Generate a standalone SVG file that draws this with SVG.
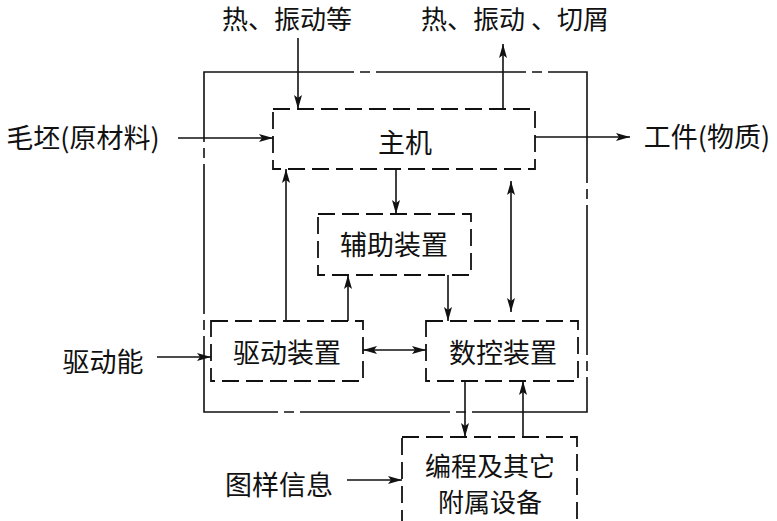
<svg xmlns="http://www.w3.org/2000/svg" width="777" height="521" viewBox="0 0 777 521">
<style>
text{font-family:"Noto Sans CJK SC","Noto Sans",sans-serif;font-size:27px;fill:#111;text-anchor:middle;dominant-baseline:central}
.sm{font-size:26px}
.box{fill:none;stroke:#111;stroke-width:1.8;stroke-dasharray:17 7}
.outer{fill:none;stroke:#111;stroke-width:1.6;stroke-dasharray:150 6 10 6}
.ln{fill:none;stroke:#111;stroke-width:1.6}
.a{marker-end:url(#ah)}
.b{marker-start:url(#ahs);marker-end:url(#ah)}
</style>
<defs>
<marker id="ah" viewBox="0 0 14 8" refX="14" refY="4" markerWidth="14" markerHeight="8" markerUnits="userSpaceOnUse" orient="auto">
<path d="M0,0 L14,4 L0,8 L3,4 z" fill="#111"/>
</marker>
<marker id="ahs" viewBox="0 0 14 8" refX="0" refY="4" markerWidth="14" markerHeight="8" markerUnits="userSpaceOnUse" orient="auto">
<path d="M14,0 L0,4 L14,8 L11,4 z" fill="#111"/>
</marker>
</defs>
<rect class="outer" x="204" y="72" width="383" height="340"/>
<g id="host"><rect class="box" x="273" y="109" width="262" height="60"/><text x="405" y="141">主机</text></g>
<g id="aux"><rect class="box" x="318" y="214" width="153" height="61"/><text x="394" y="243">辅助装置</text></g>
<g id="drive"><rect class="box" x="211" y="321" width="152" height="60"/><text x="287" y="351">驱动装置</text></g>
<g id="nc"><rect class="box" x="426" y="321" width="152" height="60"/><text x="503" y="351">数控装置</text></g>
<g id="prog"><rect class="box" x="402" y="437" width="175" height="86"/><text class="sm" x="490" y="464">编程及其它</text><text class="sm" x="490" y="500">附属设备</text></g>
<g id="labels">
<text class="sm" x="287" y="17">热、振动等</text>
<text class="sm" x="515" y="17" xml:space="preserve">热、振动 、切屑</text>
<text x="83" y="136">毛坯(原材料)</text>
<text x="707" y="135">工件(物质)</text>
<text x="103" y="360">驱动能</text>
<text x="279" y="483">图样信息</text>
</g>
<g id="connectors">
<line class="ln a" x1="298" y1="38" x2="298" y2="109"/>
<line class="ln a" x1="503" y1="109" x2="503" y2="44"/>
<line class="ln a" x1="178" y1="138" x2="273" y2="138"/>
<line class="ln a" x1="535" y1="137" x2="630" y2="137"/>
<line class="ln a" x1="396" y1="169" x2="396" y2="214"/>
<line class="ln a" x1="286" y1="321" x2="286" y2="169"/>
<line class="ln b" x1="511" y1="181" x2="511" y2="312"/>
<line class="ln a" x1="348" y1="321" x2="348" y2="275"/>
<line class="ln a" x1="448" y1="275" x2="448" y2="321"/>
<line class="ln b" x1="363" y1="350" x2="426" y2="350"/>
<line class="ln a" x1="157" y1="357" x2="211" y2="357"/>
<line class="ln a" x1="465" y1="381" x2="465" y2="437"/>
<line class="ln a" x1="523" y1="437" x2="523" y2="381"/>
<line class="ln a" x1="347" y1="480" x2="402" y2="480"/>
</g>
</svg>
